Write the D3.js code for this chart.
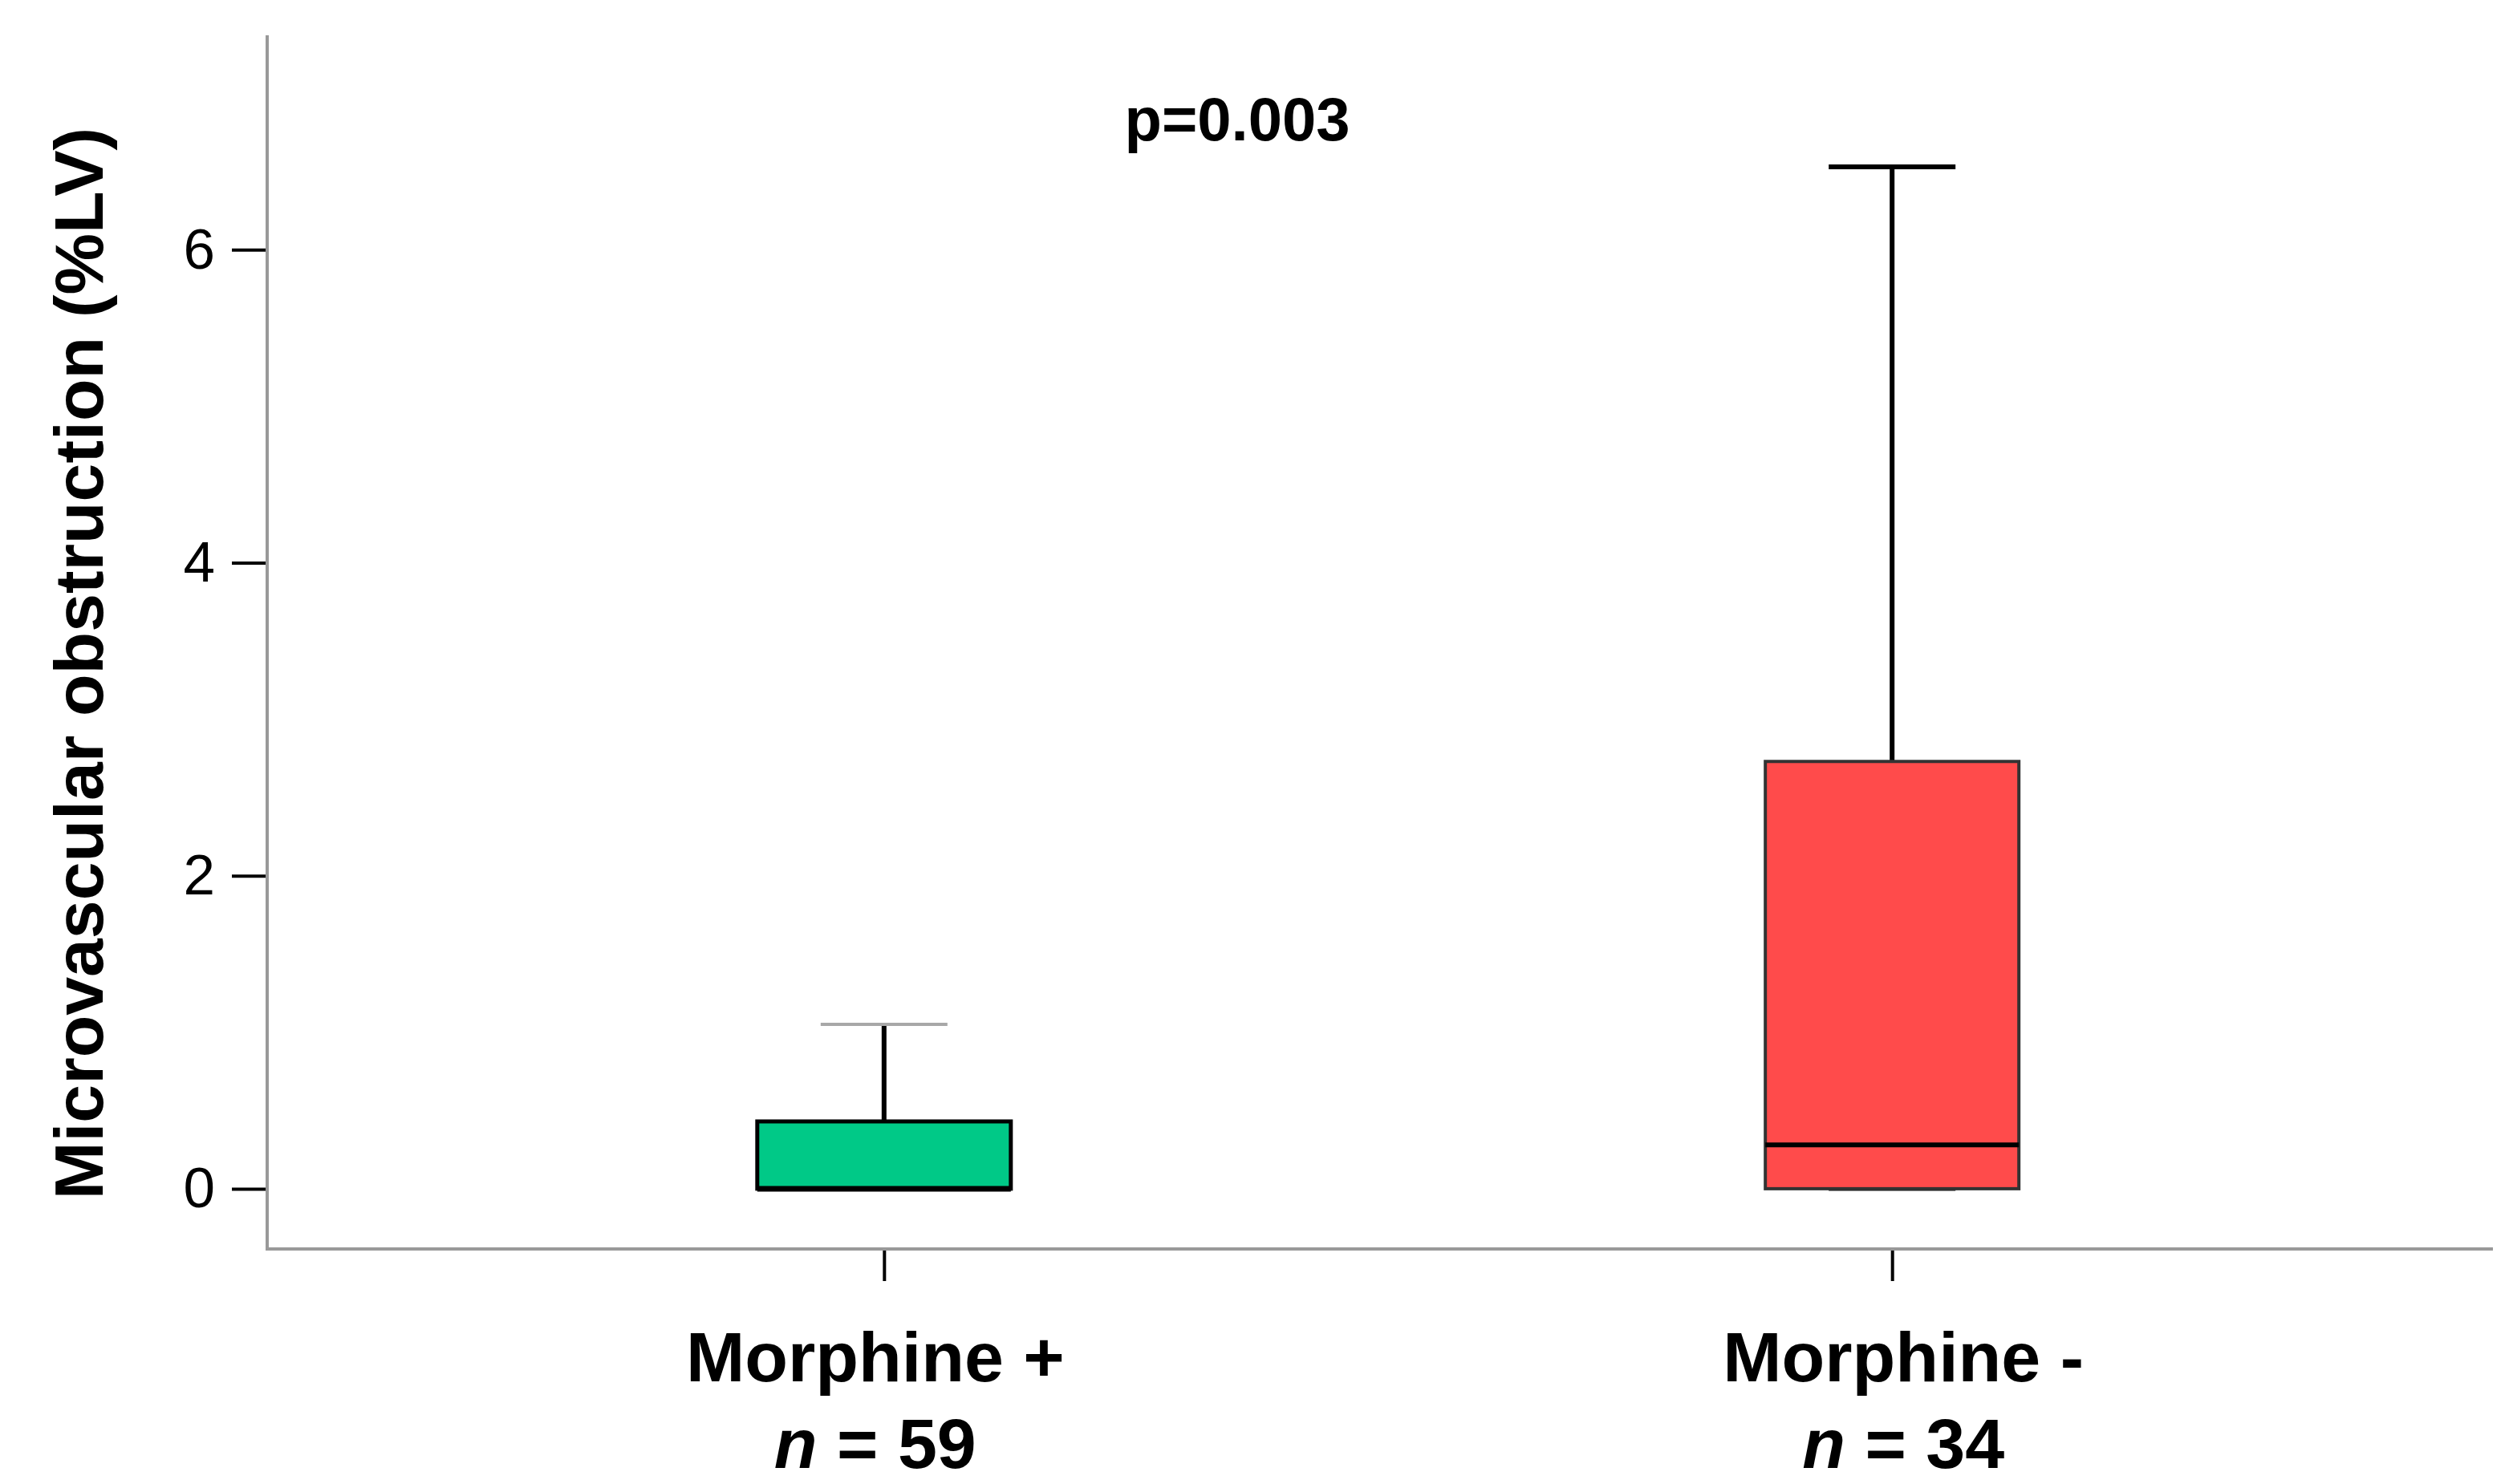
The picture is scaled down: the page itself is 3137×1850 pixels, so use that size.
<!DOCTYPE html>
<html>
<head>
<meta charset="utf-8">
<script src="https://cdn.jsdelivr.net/npm/d3@7"></script>
<style>
  html, body { margin: 0; padding: 0; background: #fff; }
  svg { display: block; }
  text { font-family: "Liberation Sans", Arial, sans-serif; }
</style>
</head>
<body>
<svg id="chart" width="3137" height="1850"></svg>
<script>
// ---- data ----
const categories = ["Morphine +", "Morphine -"];
const nLabels = ["59", "34"];
const q1 = [0, 0];
const medians = [0, 0.28];
const q3 = [0.43, 2.73];
const whiskerLow = [0, 0];
const whiskerHigh = [1.05, 6.53];
const colors = ["#00C987", "#FF4B4B"];
const yTicks = [0, 2, 4, 6];
const yDomain = [-0.385, 7.37];
const pLabel = "p=0.003";
const yTitle = "Microvascular obstruction (%LV)";

// ---- layout ----
const svg = d3.select("#chart");
const axisX0 = 333, axisX1 = 3107;
const y = d3.scaleLinear().domain(yDomain).range([1557, 44]);
const x = d3.scalePoint().domain(categories).range([348, 3112]).padding(0.6);
const boxW = 316, capW = 158;
const labelDx = [-11, 14];

// y axis
const yAxis = svg.append("g")
  .attr("transform", `translate(${axisX0},0)`)
  .call(d3.axisLeft(y).tickValues(yTicks).tickSize(44).tickPadding(21).tickSizeOuter(0).tickFormat(d3.format("d")));
yAxis.select(".domain").remove();
yAxis.selectAll(".tick line").attr("stroke", "#000").attr("stroke-width", 4);
yAxis.selectAll(".tick text").attr("font-size", 71).attr("fill", "#000")
  .attr("font-family", "'Liberation Sans', Arial, sans-serif");

// x axis ticks
const xAxis = svg.append("g")
  .attr("transform", `translate(0,${y(yDomain[0])})`)
  .call(d3.axisBottom(x).tickSize(40).tickFormat(""));
xAxis.select(".domain").remove();
xAxis.selectAll(".tick line").attr("stroke", "#000").attr("stroke-width", 4);

// axis lines (gray)
svg.append("line").attr("x1", axisX0).attr("x2", axisX0)
  .attr("y1", y(yDomain[1])).attr("y2", y(yDomain[0]) + 2)
  .attr("stroke", "#999").attr("stroke-width", 4);
svg.append("line").attr("x1", axisX0).attr("x2", axisX1)
  .attr("y1", y(yDomain[0])).attr("y2", y(yDomain[0]))
  .attr("stroke", "#999").attr("stroke-width", 4);

// boxes
const data = categories.map((c, i) => ({
  c, q1: q1[i], med: medians[i], q3: q3[i], lo: whiskerLow[i], hi: whiskerHigh[i], col: colors[i], i
}));
const g = svg.append("g");
data.forEach(d => {
  const cx = x(d.c);
  // upper whisker
  g.append("line").attr("x1", cx).attr("x2", cx).attr("y1", y(d.q3)).attr("y2", y(d.hi))
    .attr("stroke", "#000").attr("stroke-width", 6);
  g.append("line").attr("x1", cx - capW / 2).attr("x2", cx + capW / 2).attr("y1", y(d.hi)).attr("y2", y(d.hi))
    .attr("stroke", d.i === 0 ? "#a8a8a8" : "#000").attr("stroke-width", d.i === 0 ? 4 : 6);
  // lower cap
  g.append("line").attr("x1", cx - capW / 2).attr("x2", cx + capW / 2).attr("y1", y(d.lo)).attr("y2", y(d.lo))
    .attr("stroke", "#000").attr("stroke-width", 5);
  // box
  g.append("rect").attr("x", cx - boxW / 2).attr("width", boxW)
    .attr("y", y(d.q3)).attr("height", y(d.q1) - y(d.q3))
    .attr("fill", d.col).attr("stroke", d.i === 0 ? "#000" : "#333")
    .attr("stroke-width", d.i === 0 ? 5 : 4);
  // median
  g.append("line").attr("x1", cx - boxW / 2).attr("x2", cx + boxW / 2).attr("y1", y(d.med)).attr("y2", y(d.med))
    .attr("stroke", "#000").attr("stroke-width", d.i === 0 ? 7 : 6);
  // labels
  const lx = cx + labelDx[d.i];
  svg.append("text").attr("x", lx).attr("y", 1722).attr("text-anchor", "middle")
    .attr("font-size", 88).attr("font-weight", "bold").attr("fill", "#000").text(d.c);
  const t = svg.append("text").attr("x", lx).attr("y", 1830).attr("text-anchor", "middle")
    .attr("font-size", 88).attr("font-weight", "bold").attr("fill", "#000");
  t.append("tspan").attr("font-style", "italic").text("n");
  t.append("tspan").text(" = " + nLabels[d.i]);
});

// y title
svg.append("text").attr("transform", "translate(128,827) rotate(-90)")
  .attr("text-anchor", "middle").attr("font-size", 86).attr("font-weight", "bold")
  .attr("fill", "#000").text(yTitle);

// p value
svg.append("text").attr("x", 1542).attr("y", 175).attr("text-anchor", "middle")
  .attr("font-size", 76).attr("font-weight", "bold").attr("fill", "#000").text(pLabel);
</script>
</body>
</html>
